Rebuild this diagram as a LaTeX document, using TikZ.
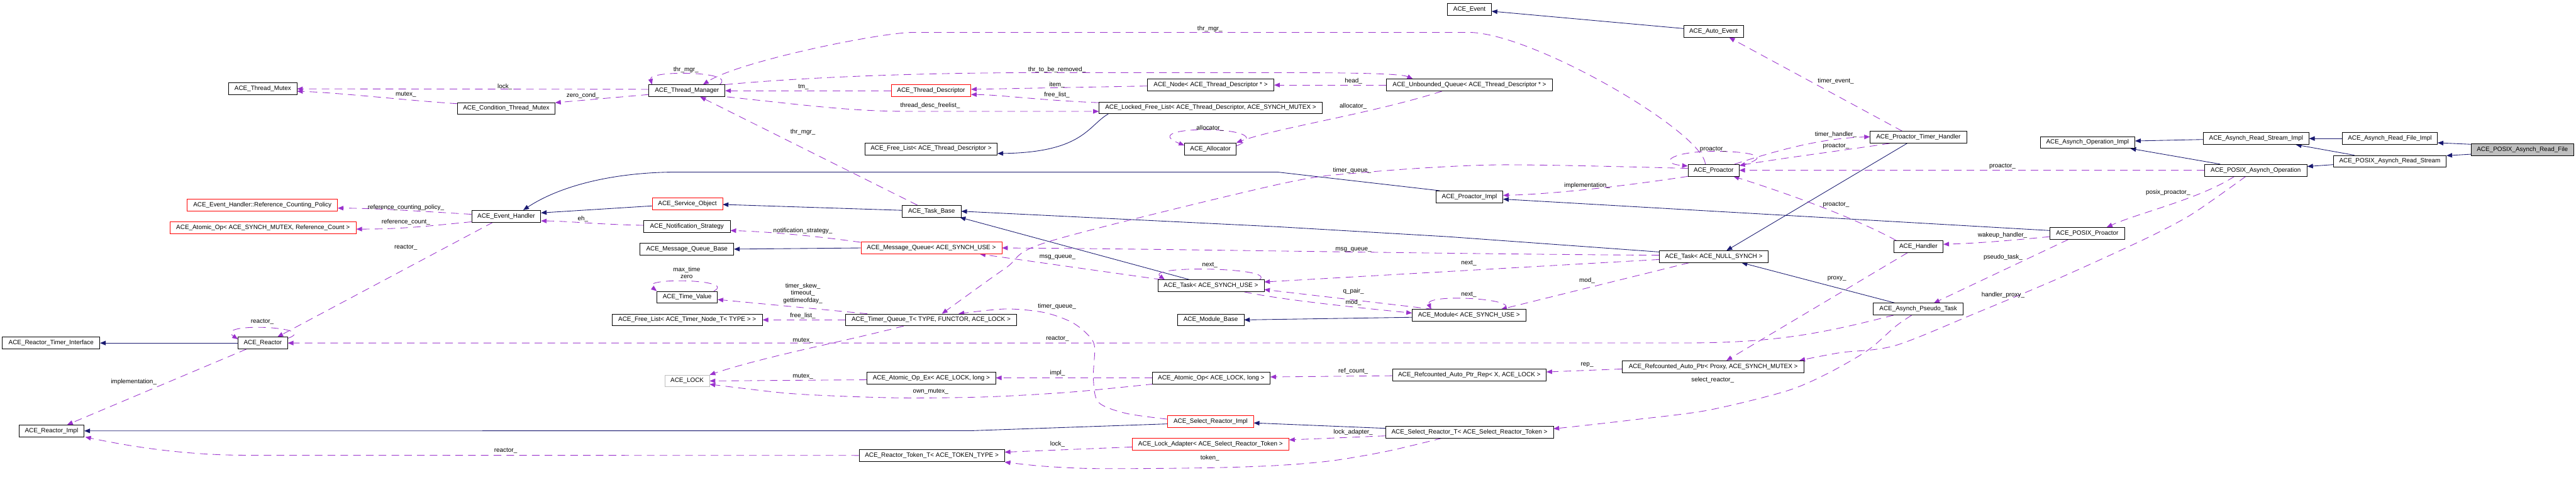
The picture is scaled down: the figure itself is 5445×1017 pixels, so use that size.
\documentclass[tikz,border=0pt]{standalone}
\usepackage{fontspec}
\newfontfamily\nfam{Liberation Sans}
\newcommand\nf{\nfam\fontsize{7.5pt}{8.7pt}\selectfont}
\usetikzlibrary{arrows.meta,calc}
\definecolor{navy}{HTML}{191970}
\definecolor{orchid}{HTML}{9A32CD}
\definecolor{lgray}{HTML}{BFBFBF}
\pgfdeclarelayer{bg}
\pgfdeclarelayer{edges}
\pgfsetlayers{bg,edges,main}
\tikzset{
  cls/.style={draw=black, line width=0.5pt, minimum height=0.5cm, inner sep=0pt, font=\nf, fill=white},
  redcls/.style={cls, draw=red},
  lbl/.style={font=\nf, inner sep=0pt, align=center},
  inh/.style={draw=navy, line width=0.65pt, -{Triangle[length=0.24cm,width=0.19cm]}},
  dep/.style={draw=orchid, line width=0.65pt, dash pattern=on 0.32cm off 0.22cm, -{Triangle[length=0.24cm,width=0.19cm]}},
}
\begin{document}
\begin{tikzpicture}[x=0.02cm,y=-0.02cm]
\begin{pgfonlayer}{bg}
\fill[white] (0,0) rectangle (5445,1017);
\end{pgfonlayer}
\useasboundingbox (0,0) rectangle (5445,1017);
% ---------- nodes ----------
\node[cls, minimum width=2.88cm] (tmutex) at (555.5,187.7) {ACE\_Thread\_Mutex};
\node[redcls, minimum width=6.35cm] (rcp) at (554.6,432.7) {ACE\_Event\_Handler::Reference\_Counting\_Policy};
\node[redcls, minimum width=7.87cm] (aopmx) at (556,481) {ACE\_Atomic\_Op< ACE\_SYNCH\_MUTEX, Reference\_Count >};
\node[cls, minimum width=3.22cm] (tmgr) at (1452,191.7) {ACE\_Thread\_Manager};
\node[cls, minimum width=4.12cm] (ctm) at (1070,229) {ACE\_Condition\_Thread\_Mutex};
\node[cls, minimum width=2.92cm] (evh) at (1070,456.7) {ACE\_Event\_Handler};
\node[redcls, minimum width=2.97cm] (svo) at (1453,430) {ACE\_Service\_Object};
\node[cls, minimum width=3.66cm] (nst) at (1452,478) {ACE\_Notification\_Strategy};
\node[redcls, minimum width=3.36cm] (tdesc) at (1968,191.7) {ACE\_Thread\_Descriptor};
\node[cls, minimum width=5.35cm] (node) at (2559,179.7) {ACE\_Node< ACE\_Thread\_Descriptor * >};
\node[cls, minimum width=9.44cm] (lfl) at (2559,227.8) {ACE\_Locked\_Free\_List< ACE\_Thread\_Descriptor, ACE\_SYNCH\_MUTEX >};
\node[cls, minimum width=5.6cm] (fltd) at (1968,314.3) {ACE\_Free\_List< ACE\_Thread\_Descriptor >};
\node[cls, minimum width=2.18cm] (alloc) at (2558.5,314.3) {ACE\_Allocator};
\node[cls, minimum width=2.5cm] (tbase) at (1969,446.3) {ACE\_Task\_Base};
\node[cls, minimum width=1.86cm] (event) at (3106,19.8) {ACE\_Event};
\node[cls, minimum width=2.52cm] (aevent) at (3622,66.3) {ACE\_Auto\_Event};
\node[cls, minimum width=7.01cm] (ubq) at (3106,179.7) {ACE\_Unbounded\_Queue< ACE\_Thread\_Descriptor * >};
\node[cls, minimum width=2.83cm] (pimpl) at (3106,415.7) {ACE\_Proactor\_Impl};
\node[cls, minimum width=2.16cm] (proactor) at (3622,359.7) {ACE\_Proactor};
\node[cls, minimum width=4.08cm] (pth) at (4055,290) {ACE\_Proactor\_Timer\_Handler};
\node[cls, minimum width=4.0cm] (aoi) at (4412.5,300.8) {ACE\_Asynch\_Operation\_Impl};
\node[cls, minimum width=3.16cm] (pproactor) at (4412,493) {ACE\_POSIX\_Proactor};
\node[cls, minimum width=4.46cm] (arsi) at (4768.8,292.7) {ACE\_Asynch\_Read\_Stream\_Impl};
\node[cls, minimum width=4.02cm] (arfi) at (5051.5,292.7) {ACE\_Asynch\_Read\_File\_Impl};
\node[cls, fill=lgray, minimum width=4.34cm] (parf) at (5331.7,315.8) {ACE\_POSIX\_Asynch\_Read\_File};
\node[cls, minimum width=4.77cm] (pars) at (5051.5,340.8) {ACE\_POSIX\_Asynch\_Read\_Stream};
\node[cls, minimum width=4.34cm] (pao) at (4768,359.7) {ACE\_POSIX\_Asynch\_Operation};
\node[cls, minimum width=4.12cm] (rti) at (108,724.7) {ACE\_Reactor\_Timer\_Interface};
\node[cls, minimum width=2.09cm] (reactor) at (555.5,724.7) {ACE\_Reactor};
\node[cls, minimum width=2.75cm] (rimpl) at (109,910.3) {ACE\_Reactor\_Impl};
\node[cls, minimum width=3.96cm] (mqb) at (1452,526.3) {ACE\_Message\_Queue\_Base};
\node[cls, minimum width=2.55cm] (tv) at (1452.5,627.8) {ACE\_Time\_Value};
\node[cls, minimum width=6.36cm] (fltn) at (1452.5,675.8) {ACE\_Free\_List< ACE\_Timer\_Node\_T< TYPE > >};
\node[cls, draw=lgray, minimum width=1.88cm] (lock) at (1452.5,804.8) {ACE\_LOCK};
\node[redcls, minimum width=5.96cm] (mq) at (1968.6,523.8) {ACE\_Message\_Queue< ACE\_SYNCH\_USE >};
\node[cls, minimum width=4.49cm] (tsu) at (2559.5,603.7) {ACE\_Task< ACE\_SYNCH\_USE >};
\node[cls, minimum width=7.25cm] (tq) at (1968,675.8) {ACE\_Timer\_Queue\_T< TYPE, FUNCTOR, ACE\_LOCK >};
\node[cls, minimum width=2.81cm] (mbase) at (2559,675.8) {ACE\_Module\_Base};
\node[cls, minimum width=5.44cm] (aoex) at (1968.6,798.3) {ACE\_Atomic\_Op\_Ex< ACE\_LOCK, long >};
\node[cls, minimum width=4.98cm] (aop) at (2560,798.3) {ACE\_Atomic\_Op< ACE\_LOCK, long >};
\node[redcls, minimum width=3.63cm] (sri) at (2558.9,890.5) {ACE\_Select\_Reactor\_Impl};
\node[redcls, minimum width=6.62cm] (la) at (2558.8,938.3) {ACE\_Lock\_Adapter< ACE\_Select\_Reactor\_Token >};
\node[cls, minimum width=6.15cm] (rtt) at (1969.5,962.2) {ACE\_Reactor\_Token\_T< ACE\_TOKEN\_TYPE >};
\node[cls, minimum width=4.6cm] (tns) at (3622.4,542.2) {ACE\_Task< ACE\_NULL\_SYNCH >};
\node[cls, minimum width=4.8cm] (mod) at (3105,666.3) {ACE\_Module< ACE\_SYNCH\_USE >};
\node[cls, minimum width=6.5cm] (rapr) at (3105.7,791.8) {ACE\_Refcounted\_Auto\_Ptr\_Rep< X, ACE\_LOCK >};
\node[cls, minimum width=7.69cm] (rap) at (3621.3,774.5) {ACE\_Refcounted\_Auto\_Ptr< Proxy, ACE\_SYNCH\_MUTEX >};
\node[cls, minimum width=7.09cm] (srt) at (3106,912.8) {ACE\_Select\_Reactor\_T< ACE\_Select\_Reactor\_Token >};
\node[cls, minimum width=2.09cm] (handler) at (4055,521) {ACE\_Handler};
\node[cls, minimum width=3.8cm] (apt) at (4054.7,653) {ACE\_Asynch\_Pseudo\_Task};
% ---------- labels ----------
\node[lbl] (l01) at (1067,183.3) {lock\_};
\node[lbl] (l02) at (857.8,200) {mutex\_};
\node[lbl] (l03) at (1232,202.3) {zero\_cond\_};
\node[lbl] (l04) at (1450,147.7) {thr\_mgr\_};
\node[lbl] (l05) at (2557.4,61) {thr\_mgr\_};
\node[lbl] (l06) at (1698,183.3) {tm\_};
\node[lbl] (l07) at (2234,147.7) {thr\_to\_be\_removed\_};
\node[lbl] (l08) at (1966,222.7) {thread\_desc\_freelist\_};
\node[lbl] (l09) at (1697,279.3) {thr\_mgr\_};
\node[lbl] (l10) at (2234,178.7) {item\_};
\node[lbl] (l11) at (2234,200.3) {free\_list\_};
\node[lbl] (l12) at (2860.8,171.7) {head\_};
\node[lbl] (l13) at (2860.2,225) {allocator\_};
\node[lbl] (l14) at (2557.4,270.7) {allocator\_};
\node[lbl] (l15) at (858,438.7) {reference\_counting\_policy\_};
\node[lbl] (l16) at (858,469) {reference\_count\_};
\node[lbl] (l17) at (857.8,522.7) {reactor\_};
\node[lbl] (l18) at (554.3,680) {reactor\_};
\node[lbl] (l19) at (282.7,807.3) {implementation\_};
\node[lbl] (l20) at (2235.3,716) {reactor\_};
\node[lbl] (l21) at (2857.9,360.7) {timer\_queue\_};
\node[lbl] (l22) at (2234.1,646.7) {timer\_queue\_};
\node[lbl] (l23) at (2235.3,544) {msg\_queue\_};
\node[lbl] (l24) at (2557.4,560) {next\_};
\node[lbl] (l25) at (2860.8,528) {msg\_queue\_};
\node[lbl] (l26) at (3104.5,555.7) {next\_};
\node[lbl] (l27) at (2860.8,616) {q\_pair\_};
\node[lbl] (l28) at (2860.8,639.3) {mod\_};
\node[lbl] (l29) at (3354.7,592.7) {mod\_};
\node[lbl] (l30) at (3104.5,623) {next\_};
\node[lbl] (l31) at (1697,487.7) {notification\_strategy\_};
\node[lbl] (l32) at (1232,462.7) {eh\_};
\node[lbl] (l33) at (1451.4,576.3) {max\_time\\zero};
\node[lbl] (l34) at (1697,619.5) {timer\_skew\_\\timeout\_\\gettimeofday\_};
\node[lbl] (l35) at (1697,666.7) {free\_list\_};
\node[lbl] (l36) at (1697,719) {mutex\_};
\node[lbl] (l37) at (1697,794.7) {mutex\_};
\node[lbl] (l38) at (1967.2,827.7) {own\_mutex\_};
\node[lbl] (l39) at (2235.3,788) {impl\_};
\node[lbl] (l40) at (2860.2,783.7) {ref\_count\_};
\node[lbl] (l41) at (3354.7,771) {rep\_};
\node[lbl] (l42) at (3620,803.3) {select\_reactor\_};
\node[lbl] (l43) at (3882.7,589.3) {proxy\_};
\node[lbl] (l44) at (4233.8,623) {handler\_proxy\_};
\node[lbl] (l45) at (4582.6,407.3) {posix\_proactor\_};
\node[lbl] (l46) at (4233.8,544) {pseudo\_task\_};
\node[lbl] (l47) at (4232.6,496.7) {wakeup\_handler\_};
\node[lbl] (l48) at (3881,432.7) {proactor\_};
\node[lbl] (l49) at (4232.6,351.7) {proactor\_};
\node[lbl] (l50) at (3881,309) {proactor\_};
\node[lbl] (l51) at (3880.3,284.3) {timer\_handler\_};
\node[lbl] (l52) at (3880.3,170.7) {timer\_event\_};
\node[lbl] (l53) at (3621,316) {proactor\_};
\node[lbl] (l54) at (3354.7,391.7) {implementation\_};
\node[lbl] (l55) at (2235.3,938.3) {lock\_};
\node[lbl] (l56) at (2557.4,967.7) {token\_};
\node[lbl] (l57) at (2860.2,912.7) {lock\_adapter\_};
\node[lbl] (l58) at (1068.9,952.7) {reactor\_};
% ---------- edges ----------
\begin{pgfonlayer}{edges}
% inheritance
\draw[inh] ($(aevent.west)+(0,-6)$) -- ($(event.east)+(0,4)$);
\draw[inh] ($(lfl.south west)+(20,0)$) .. controls (2300,265) and (2290,322) .. ($(fltd.east)+(0,10)$);
\draw[inh] (reactor.west) -- (rti.east);
\draw[inh] ($(svo.west)+(0,5)$) -- ($(evh.east)+(0,-7)$);
\draw[inh] ($(tbase.west)+(0,-2)$) -- ($(svo.east)+(0,2)$);
\draw[inh] ($(pimpl.north west)+(8,0)$) -- (2700,363.5) -- (1434,363.5) .. controls (1290,363.5) and (1180,395) .. ($(evh.north)+(36,0)$);
\draw[inh] (mq.west) -- (mqb.east);
\draw[inh] ($(tsu.north)+(-45,0)$) -- ($(tbase.south east)+(-3,0)$);
\draw[inh] ($(tns.north west)+(0,3)$) -- (3060,500) -- (2700,479) -- (tbase.east);
\draw[inh] ($(mod.west)+(0,4)$) -- (mbase.east);
\draw[inh] ($(pproactor.west)+(0,-6)$) -- ($(pimpl.east)+(0,5)$);
\draw[inh] ($(apt.north)+(-49,0)$) -- ($(tns.south)+(59,0)$);
\draw[inh] ($(pth.south)+(-24,0)$) -- ($(tns.north)+(27,0)$);
\draw[inh] ($(arsi.west)+(0,2)$) -- ($(aoi.east)+(0,-3)$);
\draw[inh] ($(pao.north)+(-75,0)$) -- ($(aoi.south east)+(-10,0)$);
\draw[inh] (arfi.west) -- (arsi.east);
\draw[inh] ($(pars.north)+(-75,0)$) -- ($(arsi.south east)+(-28,0)$);
\draw[inh] ($(pars.west)+(0,7)$) -- ($(pao.east)+(0,-8)$);
\draw[inh] ($(parf.west)+(0,-11)$) -- ($(arfi.east)+(0,9)$);
\draw[inh] ($(parf.west)+(0,10)$) -- ($(pars.east)+(0,-12)$);
\draw[inh] ($(sri.west)+(0,5)$) -- (2050,910) -- (rimpl.east);
\draw[inh] ($(srt.north west)+(0,5)$) -- ($(sri.east)+(0,3)$);
% usage
\draw[dep] ($(tmgr.west)+(0,-3)$) -- (tmutex.east);
\draw[dep] ($(ctm.west)+(0,-10)$) .. controls (880,214) and (720,196) .. ($(tmutex.east)+(0,5)$);
\draw[dep] ($(tmgr.west)+(0,8)$) -- ($(ctm.east)+(0,-12)$);
\draw[dep] ($(tmgr.north east)+(-12,0)$) .. controls (1560,150) and (1370,148) .. ($(tmgr.north west)+(7,0)$);
\draw[dep] ($(proactor.north west)+(37,0)$) .. controls (3600,280) and (3250,75) .. (3110,68.5) -- (1930,68.5) .. controls (1860,68.5) and (1560,130) .. ($(tmgr.north)+(34,0)$);
\draw[dep] (tdesc.west) -- (tmgr.east);
\draw[dep] (tmgr.north east) .. controls (1700,163) and (1950,153.5) .. (2200,153.5) -- (2700,153.5) .. controls (2850,153.5) and (2960,155) .. ($(ubq.north west)+(56,0)$);
\draw[dep] ($(tmgr.south east)+(4,0)$) .. controls (1700,222) and (1800,235.3) .. (1920,235.3) -- ($(lfl.west)+(0,7.5)$);
\draw[dep] ($(tbase.north)+(-30,0)$) -- ($(tmgr.south)+(28,0)$);
\draw[dep] ($(node.west)+(0,2)$) -- ($(tdesc.east)+(0,-3)$);
\draw[dep] ($(lfl.north west)+(0,2)$) .. controls (2200,212) and (2110,200) .. ($(tdesc.east)+(0,8)$);
\draw[dep] (ubq.west) -- (node.east);
\draw[dep] ($(ubq.south)+(-58,0)$) .. controls (2900,240) and (2700,270) .. (alloc.north east);
\draw[dep] ($(alloc.east)+(0,-6)$) .. controls (2720,265) and (2390,262) .. ($(alloc.west)+(0,-7)$);
\draw[dep] ($(evh.west)+(0,-4)$) .. controls (900,447) and (800,440) .. ($(rcp.east)+(0,7)$);
\draw[dep] ($(evh.south west)+(0,-1)$) .. controls (900,478) and (850,484) .. ($(aopmx.east)+(0,3)$);
\draw[dep] ($(evh.south)+(-28,0)$) -- ($(reactor.north)+(31,0)$);
\draw[dep] ($(reactor.north east)+(0,3)$) .. controls (680,690) and (450,680) .. ($(reactor.west)+(0,-8)$);
\draw[dep] ($(reactor.south west)+(18,0)$) -- ($(rimpl.north)+(33,0)$);
\draw[dep] ($(apt.south west)+(43,0)$) .. controls (3850,705) and (3750,724.5) .. (3560,724.5) -- (reactor.east);
\draw[dep] plot[smooth] coordinates {($(proactor.west)+(0,-4)$) (3164,348.3) (2874,365) (2700,390) (2218,510) (2125,566.7) ($(tq.north)+(23,0)$)};
\draw[dep] plot[smooth] coordinates {($(sri.west)+(0,-5)$) (2380.4,873.3) (2322,850) (2311,800) (2313.7,733) (2299,706.7) (2264,680) (2206,660) (2125,652.7) ($(tq.north)+(58,0)$)};
\draw[dep] ($(tsu.north west)+(8,0)$) -- ($(mq.south east)+(-47,0)$);
\draw[dep] ($(tsu.north east)+(-10,0)$) .. controls (2700,565) and (2420,560) .. ($(tsu.north west)+(15,0)$);
\draw[dep] ($(tns.west)+(0,-3)$) .. controls (3000,536) and (2500,526) .. (mq.east);
\draw[dep] ($(tns.west)+(0,6)$) -- ($(tsu.east)+(0,-8)$);
\draw[dep] ($(mod.north)+(-75,0)$) -- ($(tsu.east)+(0,8)$);
\draw[dep] ($(tsu.south east)+(-42,0)$) .. controls (2700,632) and (2850,648) .. ($(mod.west)+(0,-5)$);
\draw[dep] ($(tns.south)+(-52,0)$) -- ($(mod.north)+(68,0)$);
\draw[dep] ($(mod.north)+(75,0)$) .. controls (3215,630) and (3010,620) .. ($(mod.north)+(-80,0)$);
\draw[dep] ($(mq.north west)+(0,1)$) .. controls (1750,502) and (1640,490) .. ($(nst.east)+(0,9)$);
\draw[dep] ($(nst.west)+(0,-2)$) .. controls (1260,474) and (1200,467) .. ($(evh.east)+(0,10)$);
\draw[dep] ($(tv.north east)+(-8,0)$) .. controls (1560,590) and (1350,585) .. (tv.north west);
\draw[dep] ($(tq.north west)+(47,0)$) -- ($(tv.east)+(0,5)$);
\draw[dep] (tq.west) -- (fltn.east);
\draw[dep] ($(tq.south)+(-58,0)$) .. controls (1800,718) and (1620,752) .. (lock.north east);
\draw[dep] ($(aoex.west)+(0,4)$) -- (lock.east);
\draw[dep] plot[smooth] coordinates {($(aop.south west)+(3,0)$) (2264,828.3) (2090,838.3) (1916,840.7) (1770.6,836.7) (1654.5,830) ($(lock.east)+(0,7)$)};
\draw[dep] (aop.west) -- (aoex.east);
\draw[dep] ($(rapr.west)+(0,2)$) -- ($(aop.east)+(0,-2)$);
\draw[dep] ($(rap.west)+(0,5)$) -- ($(rapr.east)+(0,-6)$);
\draw[dep] plot[smooth] coordinates {($(apt.south)+(-14,0)$) (4006,690) (3948,740) (3861,790) (3774,826.7) (3610,866.7) (3454.5,886.7) (3338,900) ($(srt.east)+(0,-7)$)};
\draw[dep] ($(handler.south)+(-23,0)$) -- ($(rap.north)+(28,0)$);
\draw[dep] plot[smooth] coordinates {($(pao.south)+(-21,0)$) (4680.8,420) (4620.5,460) (4530,506.7) (4354.5,586.7) (4180,660) (4006,730) (3890,745) ($(rap.north)+(182,0)$)};
\draw[dep] ($(pao.south)+(-45,0)$) .. controls (4650,420) and (4520,450) .. ($(pproactor.north)+(41,0)$);
\draw[dep] ($(pproactor.south)+(-40,0)$) -- ($(apt.north)+(33,0)$);
\draw[dep] ($(pproactor.west)+(0,7)$) .. controls (4250,508) and (4180,514) .. ($(handler.east)+(0,-5)$);
\draw[dep] ($(handler.north west)+(6,0)$) .. controls (3900,450) and (3750,400) .. ($(proactor.south)+(42,0)$);
\draw[dep] (pao.west) -- (proactor.east);
\draw[dep] ($(pth.south west)+(42,0)$) .. controls (3880,320) and (3760,335) .. ($(proactor.east)+(0,-10)$);
\draw[dep] ($(proactor.north east)+(-10,0)$) .. controls (3780,310) and (3860,292) .. ($(pth.west)+(0,-1)$);
\draw[dep] ($(pth.north)+(-34,0)$) -- ($(aevent.south)+(33,0)$);
\draw[dep] ($(proactor.north east)+(0,3)$) .. controls (3760,330) and (3690,318) .. (3610,320) .. controls (3530,322) and (3505,345) .. ($(proactor.north west)+(0,4)$);
\draw[dep] (proactor.south west) .. controls (3420,395) and (3280,410) .. ($(pimpl.east)+(0,-3)$);
\draw[dep] ($(la.west)+(0,6)$) -- ($(rtt.east)+(0,-7)$);
\draw[dep] plot[smooth] coordinates {($(srt.south)+(-58,0)$) (2932,953.3) (2816,973.3) (2700,983.3) (2554.5,988.3) (2322,990) (2206,985) ($(rtt.east)+(0,14)$)};
\draw[dep] ($(srt.west)+(0,8)$) -- ($(la.east)+(0,-9)$);
\draw[dep] (rtt.west) -- (520,961.7) .. controls (380,961.7) and (260,940) .. ($(rimpl.south east)+(2,0)$);
\end{pgfonlayer}
\end{tikzpicture}
\end{document}
